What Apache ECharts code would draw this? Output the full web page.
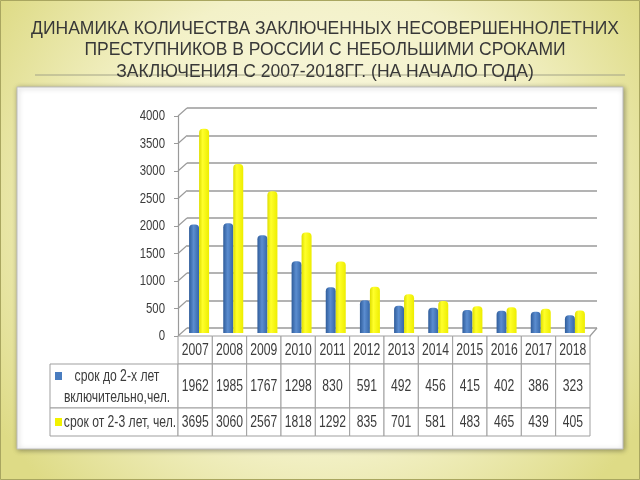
<!DOCTYPE html>
<html>
<head>
<meta charset="utf-8">
<script src="https://cdn.jsdelivr.net/npm/echarts@6/dist/echarts.min.js"></script>
<style>
html,body{margin:0;padding:0;}
#chart{width:640px;height:480px;}
</style>
</head>
<body>
<div id="chart"></div>
<script>
// ---- data ----
const years = ['2007','2008','2009','2010','2011','2012','2013','2014','2015','2016','2017','2018'];
const shortTerm = [1962,1985,1767,1298,830,591,492,456,415,402,386,323];
const longTerm = [3695,3060,2567,1818,1292,835,701,581,483,465,439,405];
const yTicks = [0,500,1000,1500,2000,2500,3000,3500,4000];
const seriesNames = ['срок до 2-х лет\nвключительно,чел.', 'срок от 2-3 лет, чел.'];
const titleText = 'ДИНАМИКА КОЛИЧЕСТВА ЗАКЛЮЧЕННЫХ НЕСОВЕРШЕННОЛЕТНИХ\nПРЕСТУПНИКОВ В РОССИИ С НЕБОЛЬШИМИ СРОКАМИ\nЗАКЛЮЧЕНИЯ С 2007-2018ГГ. (НА НАЧАЛО ГОДА)';

// ---- style constants ----
const FONT = "'Liberation Sans',Arial,sans-serif";
const NARROW = 0.76;
const GRID_COLOR = '#9a9a9a';
const CELL_BORDER = '#9f9f9f';
const TEXT_COLOR = '#3c3c3c';
const BLUE = '#4a7dc0';
const DEPTH = {dx: 9, dy: 8};

const chart = echarts.init(document.getElementById('chart'), null, {renderer: 'canvas'});

const blueGrad = new echarts.graphic.LinearGradient(0, 0, 1, 0, [
  {offset: 0, color: '#2f5c9a'},
  {offset: 0.45, color: '#5b8dd0'},
  {offset: 1, color: '#3566a8'}
]);
const yellowGrad = new echarts.graphic.LinearGradient(0, 0, 1, 0, [
  {offset: 0, color: '#dede00'},
  {offset: 0.35, color: '#ffff2a'},
  {offset: 1, color: '#eded00'}
]);

function narrowText(text, x, y, size, align, extra) {
  return {
    type: 'text', x: x, y: y, scaleX: NARROW,
    style: Object.assign({text: text, x: 0, y: 0, align: align, verticalAlign: 'middle',
      fill: TEXT_COLOR, font: size + 'px ' + FONT}, extra || {})
  };
}

// y-axis: slanted 3D connectors + narrow tick labels
function connectorRender(params, api) {
  const cs = params.coordSys;
  const v = api.value(1);
  const y = api.coord([0, v])[1];
  const children = [
    {type: 'line', shape: {x1: cs.x, y1: y, x2: cs.x + DEPTH.dx, y2: y - DEPTH.dy},
     style: {stroke: GRID_COLOR, lineWidth: 1.2}},
    narrowText(String(yTicks[params.dataIndex]), cs.x - 13, y, 15, 'right')
  ];
  if (v === 0) {
    children.push({type: 'line',
      shape: {x1: cs.x + cs.width, y1: y, x2: cs.x + cs.width + DEPTH.dx - 2, y2: y - DEPTH.dy},
      style: {stroke: GRID_COLOR, lineWidth: 1.2}});
  }
  return {type: 'group', children: children};
}

function makeCellRender(texts) {
  return function (params, api) {
    const cs = params.coordSys;
    const i = api.value(0);
    const cx = api.coord([i, 0])[0];
    const w = api.size([1, 0])[0];
    return {
      type: 'group',
      children: [
        {type: 'rect', shape: {x: cx - w / 2, y: cs.y, width: w, height: cs.height},
         style: {fill: '#ffffff', stroke: CELL_BORDER, lineWidth: 1}},
        narrowText(String(texts[params.dataIndex]), cx, cs.y + cs.height / 2 + 1, 16, 'center')
      ]
    };
  };
}

function legendCellRender(name, color, twoLine) {
  return function (params, api) {
    const cs = params.coordSys;
    const midY = cs.y + cs.height / 2;
    const sqY = twoLine ? cs.y + 8 : midY - 4;
    return {
      type: 'group',
      children: [
        {type: 'rect', shape: {x: cs.x, y: cs.y, width: cs.width, height: cs.height},
         style: {fill: '#ffffff', stroke: CELL_BORDER, lineWidth: 1}},
        {type: 'rect', shape: {x: cs.x + 5, y: sqY, width: 7, height: 8}, style: {fill: color}},
        narrowText(name, cs.x + cs.width / 2 + (twoLine ? 3 : 6), midY + 1, 16, 'center', {lineHeight: 21})
      ]
    };
  };
}

const hiddenCat = (gi) => ({type: 'category', gridIndex: gi, data: years, show: false});
const hiddenUnit = (gi) => ({type: 'value', gridIndex: gi, min: 0, max: 1, show: false});

const option = {
  animation: false,
  backgroundColor: {
    type: 'radial', x: 0.5, y: 0.45, r: 0.8,
    colorStops: [
      {offset: 0, color: '#fbfaea'},
      {offset: 0.6, color: '#f3f1c8'},
      {offset: 1, color: '#dedb86'}
    ]
  },
  title: {
    text: titleText,
    left: '50%',
    top: 13,
    textAlign: 'center',
    textStyle: {fontFamily: FONT, fontWeight: 'normal', fontSize: 17.5, lineHeight: 21.5, color: '#383838', align: 'center'}
  },
  graphic: [
    {type: 'rect', z: -100, shape: {x: 0.5, y: 0.5, width: 639, height: 479}, style: {fill: 'none', stroke: '#a9a660', lineWidth: 1}},
    {type: 'line', z: -100, shape: {x1: 35, y1: 75, x2: 625, y2: 75}, style: {stroke: '#a4a488', lineWidth: 1.2}},
    {type: 'rect', z: -100, shape: {x: 17, y: 87, width: 606, height: 362},
     style: {fill: '#ffffff', stroke: '#bdbdbd', lineWidth: 1, shadowBlur: 5, shadowColor: 'rgba(0,0,0,0.35)', shadowOffsetX: 1, shadowOffsetY: 1}}
  ],
  grid: [
    {left: 187, right: 43, top: 108, bottom: 152},
    {left: 178, right: 50, top: 116, bottom: 144},
    {left: 182, right: 48, top: 112, bottom: 147},
    {left: 50, width: 128, top: 364, height: 44},
    {left: 178, right: 50, top: 364, height: 44},
    {left: 50, width: 128, top: 408, height: 28},
    {left: 178, right: 50, top: 408, height: 28},
    {left: 178, right: 50, top: 336, height: 28}
  ],
  xAxis: [
    hiddenCat(0),
    {type: 'category', gridIndex: 1, data: years,
     axisLine: {show: true, lineStyle: {color: GRID_COLOR, width: 1.2}},
     axisTick: {show: false}, axisLabel: {show: false}, splitLine: {show: false}},
    hiddenCat(2),
    {type: 'category', gridIndex: 3, data: ['legend'], show: false},
    hiddenCat(4),
    {type: 'category', gridIndex: 5, data: ['legend'], show: false},
    hiddenCat(6),
    hiddenCat(7)
  ],
  yAxis: [
    {type: 'value', gridIndex: 0, min: 0, max: 4000, interval: 500,
     axisLabel: {show: false}, axisLine: {show: false}, axisTick: {show: false},
     splitLine: {show: true, lineStyle: {color: GRID_COLOR, width: 1.5}}},
    {type: 'value', gridIndex: 1, min: 0, max: 4000, interval: 500,
     axisLine: {show: true, lineStyle: {color: GRID_COLOR, width: 1.2}},
     axisTick: {show: true, length: 4, lineStyle: {color: GRID_COLOR}},
     axisLabel: {show: false}, splitLine: {show: false}},
    {type: 'value', gridIndex: 2, min: 0, max: 4000, show: false},
    hiddenUnit(3), hiddenUnit(4), hiddenUnit(5), hiddenUnit(6), hiddenUnit(7)
  ],
  series: [
    {type: 'custom', xAxisIndex: 1, yAxisIndex: 1, renderItem: connectorRender,
     data: yTicks.map(v => [0, v]), silent: true, z: 1},
    {type: 'bar', name: seriesNames[0], xAxisIndex: 2, yAxisIndex: 2, data: shortTerm,
     barWidth: 10, barGap: '0%', itemStyle: {color: blueGrad, borderRadius: [4, 4, 0, 0]}, z: 3},
    {type: 'bar', name: seriesNames[1], xAxisIndex: 2, yAxisIndex: 2, data: longTerm,
     barWidth: 10, barGap: '0%', itemStyle: {color: yellowGrad, borderRadius: [4, 4, 0, 0]}, z: 3},
    {type: 'custom', xAxisIndex: 7, yAxisIndex: 7, data: years.map((y, i) => [i, 0]),
     renderItem: makeCellRender(years)},
    {type: 'custom', xAxisIndex: 3, yAxisIndex: 3, data: [[0, 0]],
     renderItem: legendCellRender(seriesNames[0], BLUE, true)},
    {type: 'custom', xAxisIndex: 4, yAxisIndex: 4, data: shortTerm.map((v, i) => [i, 0]),
     renderItem: makeCellRender(shortTerm)},
    {type: 'custom', xAxisIndex: 5, yAxisIndex: 5, data: [[0, 0]],
     renderItem: legendCellRender(seriesNames[1], '#f2f200', false)},
    {type: 'custom', xAxisIndex: 6, yAxisIndex: 6, data: longTerm.map((v, i) => [i, 0]),
     renderItem: makeCellRender(longTerm)}
  ]
};
chart.setOption(option);
</script>
</body>
</html>
